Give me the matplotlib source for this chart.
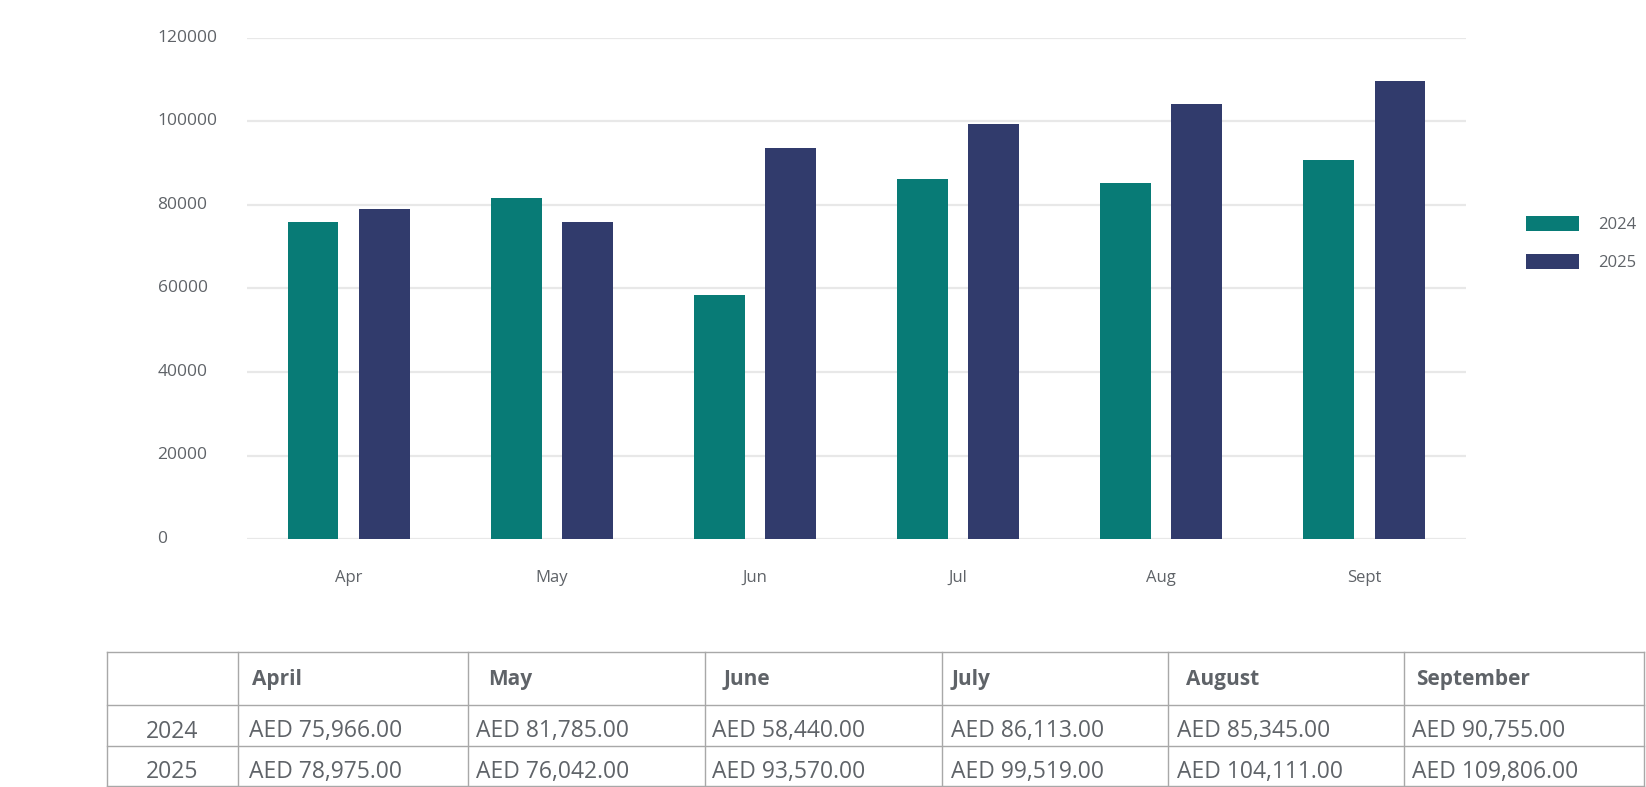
import matplotlib
matplotlib.use("Agg")
import matplotlib.pyplot as plt
import numpy as np

plt.rcParams['font.family'] = ['Open Sans', 'DejaVu Sans']

months = ['Apr', 'May', 'Jun', 'Jul', 'Aug', 'Sept']
months_full = ['April', 'May', 'June', 'July', 'August', 'September']
sales_2024 = [75966, 81785, 58440, 86113, 85345, 90755]
sales_2025 = [78975, 76042, 93570, 99519, 104111, 109806]
years = ['2024', '2025']

c2024 = '#087b76'
c2025 = '#313b6c'
txt = '#5f6368'

W, H = 1646, 787
fig = plt.figure(figsize=(W / 100, H / 100), dpi=100)

# chart area in pixels
left, right, top, bottom = 247, 1466, 38, 539
ax = fig.add_axes([left / W, 1 - bottom / H, (right - left) / W, (bottom - top) / H])
x = np.arange(len(months))
ax.bar(x - 0.175, sales_2024, width=0.25, color=c2024, label='2024', zorder=3)
ax.bar(x + 0.175, sales_2025, width=0.25, color=c2025, label='2025', zorder=3)
ax.set_xlim(-0.5, len(months) - 0.5)
ax.set_ylim(0, 120000)
ax.set_yticks(np.arange(0, 120001, 20000))
ax.yaxis.grid(True, color='#e8e8e8', linewidth=1.6, zorder=0)
for s in ax.spines.values():
    s.set_visible(False)
ax.tick_params(length=0)
ax.set_xticks(x)
ax.set_xticklabels(months, fontsize=12, color=txt)
ax.tick_params(axis='x', pad=22.5)
ax.set_yticklabels([])
for v in ax.get_yticks():
    ax.text(-0.94, v, f'{int(v)}', ha='left', va='center', fontsize=12.5, color=txt,
            transform=ax.transData)

leg = ax.legend(loc='upper left', bbox_to_anchor=(1.037, 0.675), frameon=False,
                fontsize=12, labelcolor=txt, handlelength=3.2, handleheight=1.0,
                labelspacing=1.25, handletextpad=1.1)

# table overlay in pixel coordinates
tb = fig.add_axes([0, 0, 1, 1])
tb.set_xlim(0, W)
tb.set_ylim(H, 0)
tb.axis('off')
col_x = [107, 238, 468, 705, 942, 1168, 1404, 1644]
row_y = [652, 705, 746, 786]
lc = '#a8a8a8'
for yy in row_y:
    tb.plot([col_x[0], col_x[-1]], [yy, yy], color=lc, lw=1.0)
for xx in col_x:
    tb.plot([xx, xx], [row_y[0], row_y[-1]], color=lc, lw=1.0)

head_off = [14, 20, 19, 10, 18, 12]
data_off = [11, 8, 7, 9, 9, 8]
for i, m in enumerate(months_full):
    tb.text(col_x[i + 1] + head_off[i], (row_y[0] + row_y[1]) / 2 + 1, m, ha='left',
            va='center', fontsize=15, fontweight='bold', color=txt)
rows = [sales_2024, sales_2025]
for r, (yr, vals) in enumerate(zip(years, rows)):
    yc = (row_y[r + 1] + row_y[r + 2]) / 2 + 6
    tb.text((col_x[0] + col_x[1]) / 2, yc, yr, ha='center', va='center',
            fontsize=16.5, color=txt)
    for i, v in enumerate(vals):
        tb.text(col_x[i + 1] + data_off[i], yc, f'AED {v:,.2f}', ha='left', va='center',
                fontsize=16.5, color=txt)

fig.savefig('out.png', dpi=100)
